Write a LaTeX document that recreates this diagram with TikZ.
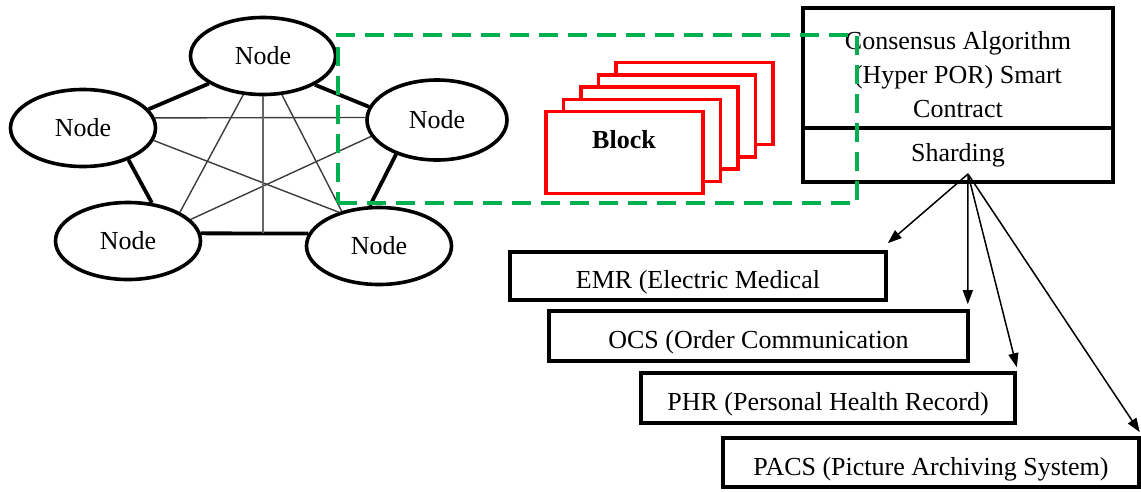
\documentclass[tikz,border=0pt]{standalone}
\usepackage{fontspec}
\setmainfont{Liberation Serif}
\usetikzlibrary{shapes.geometric,arrows.meta}
\definecolor{grn}{RGB}{0,176,80}
\definecolor{thinc}{RGB}{60,60,60}
\begin{document}
\begin{tikzpicture}[x=1pt,y=-1pt,
  every node/.style={font=\fontsize{26}{34}\selectfont},
  peer/.style={ellipse, draw, line width=3.6pt, minimum width=145pt, minimum height=77pt, inner sep=0pt, fill=white},
  ring/.style={line width=3.8pt},
  chord/.style={draw=thinc, line width=1.4pt},
  blk/.style={draw=red, line width=3.5pt, fill=white, minimum width=157pt, minimum height=82pt, inner sep=0pt},
  box/.style={draw, line width=3.6pt, inner sep=0pt, fill=white},
  appbox/.style={box, text height=28pt, text depth=3pt},
  arr/.style={line width=1.5pt, -{Triangle[length=14pt,width=10pt]}},
  grnbox/.style={draw=grn, line width=4pt, dash pattern=on 19pt off 10pt, inner sep=0pt}
]
\useasboundingbox (0,0) rectangle (1141,491);

% peer nodes
\node[peer] (top) at (263,56) {Node};
\node[peer] (left) at (83,128) {Node};
\node[peer, minimum width=140pt, minimum height=80pt] (right) at (437,120) {Node};
\node[peer] (bl) at (128,241) {Node};
\node[peer] (br) at (379,246) {Node};
\coordinate (mid) at (263,233);

% ring edges
\draw[ring] (top.207) -- (left.16);
\draw[ring] (top.331) -- (right.169);
\draw[ring] (right.220) -- (br.103);
\draw[ring] (br.170) -- (bl.6);
\draw[ring] (bl.58) -- (left.325);
% chords
\draw[chord] (left.8) -- (right.178);
\draw[chord] (left.-10) -- (br.140);
\draw[chord] (right.194) -- (bl.19);
\draw[chord] (top.243) -- (bl.29);
\draw[chord] (top.296) -- (br.137);
\draw[chord, line width=1.8pt, draw=gray!80!black] (top.270) -- (mid);

% blocks
\foreach \k in {4,3,2,1,0}{
  \node[blk] (blk\k) at ({624.5+17.5*\k},{152.5-12.25*\k}) {};
}
\node[font=\bfseries\fontsize{26}{34}\selectfont] (blocklbl) at (624,140) {Block};

% consensus / sharding
\node[box, minimum width=310pt, minimum height=120pt,
  label={[align=center, yshift=-7pt, font=\fontsize{26}{34}\selectfont]center:Consensus Algorithm\\(Hyper POR) Smart\\Contract}] (cons) at (958,68) {};
\node[box, minimum width=310pt, minimum height=54pt] (shard) at (958,155) {Sharding};
\coordinate (sh) at (968,174);

% application boxes
\node[appbox, minimum width=376pt, minimum height=48pt] (emr) at (698,276) {EMR (Electric Medical};
\node[appbox, minimum width=419pt, minimum height=50pt] (ocs) at (758.5,336) {OCS (Order Communication};
\node[appbox, minimum width=374pt, minimum height=50pt] (phr) at (828,398) {PHR (Personal Health Record)};
\node[appbox, minimum width=416pt, minimum height=49pt] (pacs) at (931,462.5) {PACS (Picture Archiving System)};

\draw[arr] (sh) -- ([yshift=7pt]emr.north east);
\draw[arr] (sh) -- ([xshift=-2pt,yshift=5pt]ocs.north east);
\draw[arr] (sh) -- ([yshift=4pt]phr.north east);
\draw[arr] (sh) -- ([xshift=-1pt,yshift=4pt]pacs.north east);

% green dashed group
\node[grnbox, minimum width=519pt, minimum height=168pt] (grp) at (597.5,119) {};
\end{tikzpicture}
\end{document}
